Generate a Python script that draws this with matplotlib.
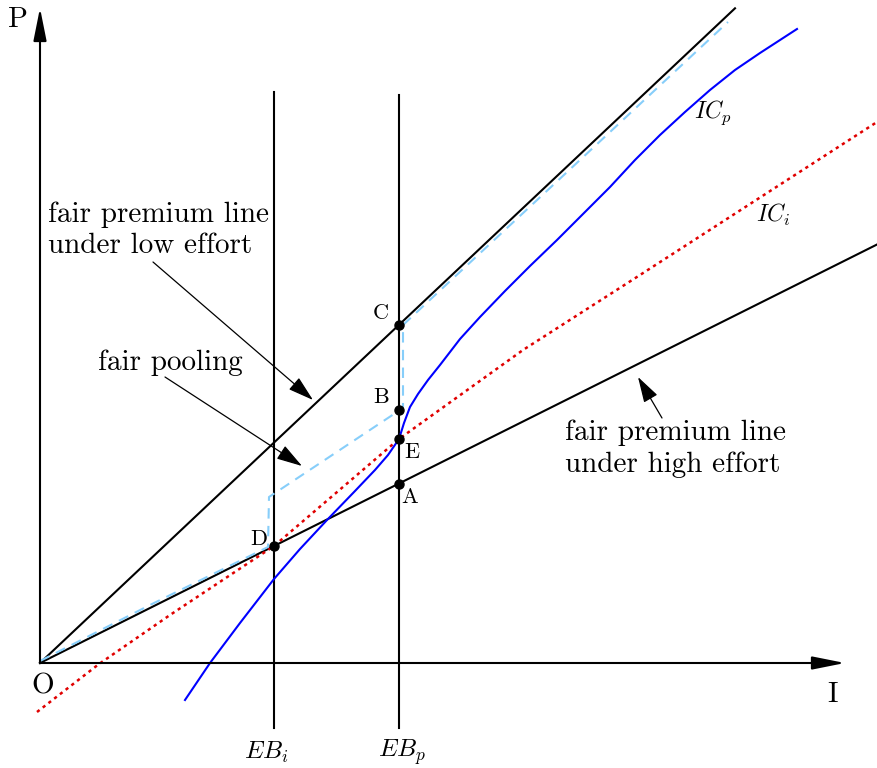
import numpy as np
import matplotlib.pyplot as plt

plt.rcParams['font.family'] = 'serif'
plt.rcParams['font.serif'] = ['cmr10', 'DejaVu Serif']
plt.rcParams['mathtext.fontset'] = 'cm'
plt.rcParams['axes.unicode_minus'] = False

# Data (I = insurance, P = premium) ===============================

slope_high = 0.5      # fair premium line under high effort
slope_low = 0.942     # fair premium line under low effort
I_high_end = 837
I_low_end = 695

EB_i = 234
EB_p = 359
eb_bottom = -65
eb_top_i = 571
eb_top_p = 568

# indifference curve of the prudent type (blue)
icp_I = [145, 170, 200, 234, 260, 287, 315, 335, 348, 359, 364, 370, 378, 388,
         400, 420, 440, 465, 490, 517, 545, 570, 595, 620, 645, 670, 695, 720, 757]
icp_P = [-37, 0, 40, 84, 114, 143, 172, 193, 208, 224, 240, 256, 269, 283,
         298, 324, 346, 372, 397, 423, 451, 476, 503, 528, 551, 573, 593, 610, 634]

# indifference curve of the imprudent type (red dotted)
ici_I = [-3, 59, 130, 234, 359, 483, 600, 837]
ici_P = [-49, -1, 48, 117, 224, 313, 388, 541]

# fair pooling contract path (light blue dashed)
pool_I = [0, 110, 228, 229, 363, 363, 688]
pool_P = [2, 58, 116, 166, 255, 338, 641]

# labelled points
pt_names = ["C", "B", "E", "A", "D"]
pt_I = [EB_p, EB_p, EB_p, EB_p, EB_i]
pt_P = [slope_low * EB_p, 253, 224, slope_high * EB_p, slope_high * EB_i]
pt_lab_I = [341, 341, 372, 370, 219]
pt_lab_P = [350, 266, 211, 166, 124]

# Plot ===========================================================

fig = plt.figure(figsize=(8.77, 7.68), dpi=100)
ax = fig.add_axes([0, 0, 1, 1])
ax.set_xlim(-40, 837)
ax.set_ylim(-105, 663)
ax.axis("off")

# axes with arrows
arrow_kw = dict(arrowstyle='-|>,head_length=1.0,head_width=0.2', lw=1.5,
                color='k', shrinkA=0, shrinkB=0, mutation_scale=20)
ax.annotate("", xy=(805, 0), xytext=(0, 0), arrowprops=arrow_kw)
ax.annotate("", xy=(0, 655), xytext=(0, 0), arrowprops=arrow_kw)

# fair premium lines
ax.plot([0, I_high_end], [0, slope_high * I_high_end], color='k', lw=1.5)
ax.plot([0, I_low_end], [0, slope_low * I_low_end], color='k', lw=1.5)

# endowment verticals
ax.plot([EB_i, EB_i], [eb_bottom, eb_top_i], color='k', lw=1.5)
ax.plot([EB_p, EB_p], [eb_bottom, eb_top_p], color='k', lw=1.5)

ax.plot(pool_I, pool_P, color='#87cefa', lw=1.5, linestyle=(0, (5, 3.5)))
ax.plot(ici_I, ici_P, color='#e00000', lw=1.8, linestyle=(0, (1.3, 1.6)))
ax.plot(icp_I, icp_P, color='#0000ff', lw=1.5, solid_joinstyle='round')

ax.plot(pt_I, pt_P, 'o', color='k', markersize=6.5, zorder=5)
for name, x, y in zip(pt_names, pt_lab_I, pt_lab_P):
    ax.text(x, y, name, fontsize=16, ha='center', va='center')

# labels
ax.text(-22, 643, "P", fontsize=21, ha='center', va='center')
ax.text(3, -23, "O", fontsize=21, ha='center', va='center')
ax.text(793, -32, "I", fontsize=21, ha='center', va='center')
ax.text(673, 550, r"$IC_p$", fontsize=17, ha='center', va='center')
ax.text(733, 448, r"$IC_i$", fontsize=17, ha='center', va='center')
ax.text(EB_i - 8, -89, r"$EB_i$", fontsize=18, ha='center', va='center')
ax.text(EB_p + 3, -89, r"$EB_p$", fontsize=18, ha='center', va='center')

ann_kw = dict(arrowstyle='-|>,head_length=1.0,head_width=0.3', lw=0.9,
              color='k', shrinkA=0, shrinkB=0, mutation_scale=16)
ax.text(8, 433, "fair premium line\nunder low effort", fontsize=21,
        ha='left', va='center', linespacing=1.25)
ax.annotate("", xy=(273, 263), xytext=(113, 401), arrowprops=ann_kw)

ax.text(58, 300, "fair pooling", fontsize=21, ha='left', va='center')
ax.annotate("", xy=(262, 197), xytext=(125, 286), arrowprops=ann_kw)

ax.text(525, 214, "fair premium line\nunder high effort", fontsize=21,
        ha='left', va='center', linespacing=1.25)
ax.annotate("", xy=(598, 286), xytext=(622, 245), arrowprops=ann_kw)

plt.savefig("out.png", dpi=100)
plt.close()
